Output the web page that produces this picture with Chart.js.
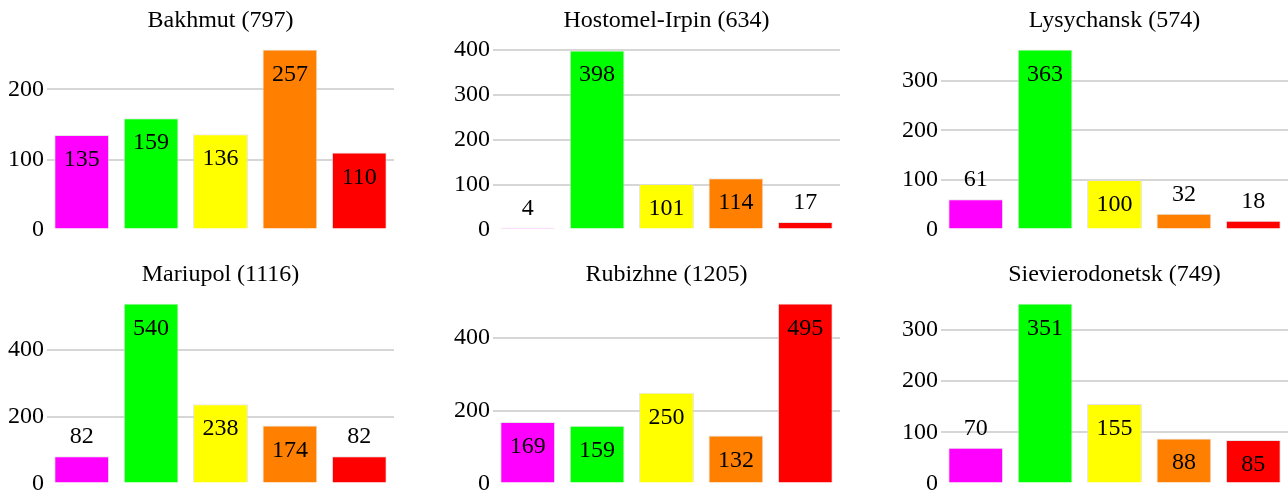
<!DOCTYPE html>
<html>
<head>
<meta charset="utf-8">
<script src="https://cdn.jsdelivr.net/npm/chart.js@4/dist/chart.umd.min.js"></script>
<style>
  html, body { margin: 0; padding: 0; background: #fff; overflow: hidden; }
  body { width: 1288px; height: 495px; position: relative; }
  .panel { position: absolute; width: 394px; height: 247px; }
</style>
</head>
<body>
<div class="panel" style="left:0px;top:0px"><canvas id="c0"></canvas></div>
<div class="panel" style="left:446px;top:0px"><canvas id="c1"></canvas></div>
<div class="panel" style="left:894px;top:0px"><canvas id="c2"></canvas></div>
<div class="panel" style="left:0px;top:254px"><canvas id="c3"></canvas></div>
<div class="panel" style="left:446px;top:254px"><canvas id="c4"></canvas></div>
<div class="panel" style="left:894px;top:254px"><canvas id="c5"></canvas></div>
<script>
// Places shown, one small chart each
const places = ['Bakhmut', 'Hostomel-Irpin', 'Lysychansk', 'Mariupol', 'Rubizhne', 'Sievierodonetsk'];

// Five categories per place (not labelled on the axis)
const categories = ['1', '2', '3', '4', '5'];
const barColors = ['#ff00ff', '#00ff00', '#ffff00', '#ff8000', '#ff0000'];

// Counts per place, in category order
const bakhmut         = [135, 159, 136, 257, 110];
const hostomelIrpin   = [4, 398, 101, 114, 17];
const lysychansk      = [61, 363, 100, 32, 18];
const mariupol        = [82, 540, 238, 174, 82];
const rubizhne        = [169, 159, 250, 132, 495];
const sievierodonetsk = [70, 351, 155, 88, 85];

// Y axis top value and tick step for each place
const axisMax  = [257, 400, 363, 540, 495, 351];
const tickStep = [100, 100, 100, 200, 200, 100];

const seriesList = [bakhmut, hostomelIrpin, lysychansk, mariupol, rubizhne, sievierodonetsk];

const FONT_FAMILY = "'Liberation Serif', 'Times New Roman', serif";

// Value labels: inside the top of tall bars, above short ones
const valueLabels = {
  id: 'valueLabels',
  afterDatasetsDraw(chart) {
    const ctx = chart.ctx;
    const meta = chart.getDatasetMeta(0);
    const values = chart.data.datasets[0].data;
    ctx.save();
    ctx.font = '24px ' + FONT_FAMILY;
    ctx.fillStyle = '#000';
    ctx.textAlign = 'center';
    ctx.textBaseline = 'alphabetic';
    meta.data.forEach((bar, i) => {
      const h = bar.base - bar.y;
      const y = h >= 40 ? bar.y + 31 : bar.y - 13;
      ctx.fillText(String(values[i]), bar.x, y);
    });
    ctx.restore();
  }
};

seriesList.forEach((values, k) => {
  const total = values.reduce((a, b) => a + b, 0);
  new Chart(document.getElementById('c' + k), {
    type: 'bar',
    data: {
      labels: categories,
      datasets: [{
        data: values,
        backgroundColor: barColors,
        borderColor: 'rgba(221,221,221,0.8)',
        borderWidth: 1,
        categoryPercentage: 1.0,
        barPercentage: 0.79
      }]
    },
    options: {
      responsive: true,
      maintainAspectRatio: false,
      animation: false,
      events: [],
      layout: { padding: 0 },
      plugins: {
        legend: { display: false },
        tooltip: { enabled: false },
        title: {
          display: true,
          text: places[k] + ' (' + total + ')',
          fullSize: false,
          color: '#000',
          font: { family: FONT_FAMILY, size: 24, weight: 'normal', lineHeight: 1.2 },
          padding: { top: 6, bottom: 14.7 }
        }
      },
      scales: {
        x: { display: false },
        y: {
          min: 0,
          max: axisMax[k],
          afterFit(scale) { scale.width = 47; },
          border: { display: false },
          grid: {
            drawTicks: false,
            lineWidth: 2,
            color: c => (c.tick && c.tick.value === 0) ? 'rgba(0,0,0,0)' : '#d6d6d6'
          },
          ticks: {
            stepSize: tickStep[k],
            includeBounds: false,
            padding: 3,
            color: '#000',
            font: { family: FONT_FAMILY, size: 24, lineHeight: 1.2 }
          }
        }
      }
    },
    plugins: [valueLabels]
  });
});
</script>
</body>
</html>
